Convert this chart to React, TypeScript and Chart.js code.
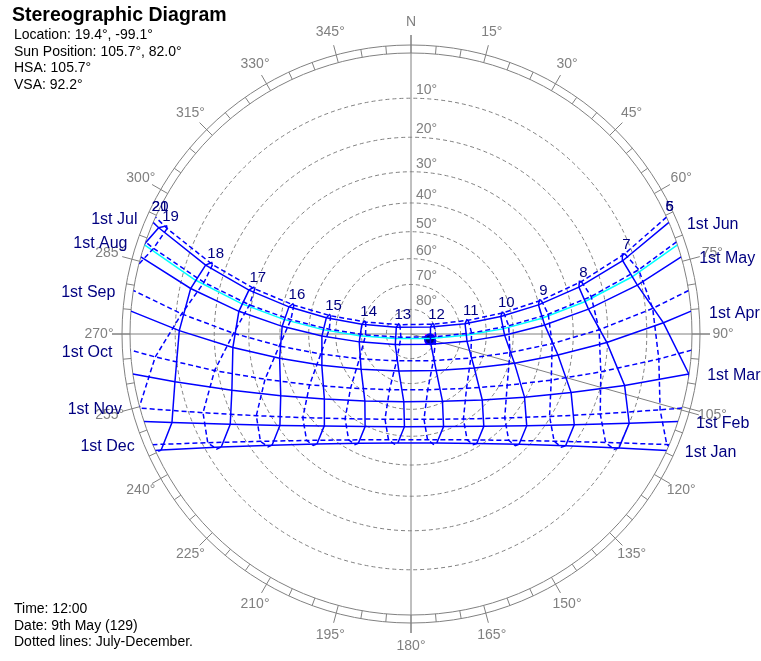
import React, { useEffect, useRef } from "react";
import { Chart, registerables } from "chart.js";

Chart.register(...registerables);

// ---------- data ----------
const LATITUDE = 19.4;
const LONGITUDE = -99.1;
const TZ_MERIDIAN = -90;
const SUN_AZ = 105.7;
const SUN_ALT = 82.0;
const HSA = 105.7;
const VSA = 92.2;
const TIME_TEXT = "12:00";
const DATE_TEXT = "9th May (129)";

// reference dates (declination in degrees, equation of time in minutes)
const DATE_NAMES = ["Jan 1", "Feb 1", "Mar 1", "Apr 1", "May 1", "Jun 1", "Jun 21", "Jul 1", "Aug 1", "Sep 1", "Oct 1", "Nov 1", "Dec 1", "Dec 21"];
const DATE_DECL = [-23.0, -17.1, -7.7, 4.4, 15.0, 22.0, 23.44, 23.1, 18.0, 8.4, -3.1, -14.4, -21.8, -23.44];
const DATE_EOT = [-3.3, -13.5, -12.4, -4.0, 2.9, 2.2, -1.8, -3.9, -6.3, -0.1, 10.1, 16.4, 11.0, 1.8];

const MONTH_LABELS = ["1st Jan", "1st Feb", "1st Mar", "1st Apr", "1st May", "1st Jun", "1st Jul", "1st Aug", "1st Sep", "1st Oct", "1st Nov", "1st Dec"];
const MONTH_DATE_INDEX = [0, 1, 2, 3, 4, 5, 7, 8, 9, 10, 11, 12];
const MONTH_DASHED = [false, false, false, false, false, false, true, true, true, true, true, true];

const TODAY_DECL = 17.4;
const TODAY_EOT = 3.6;

const HOURS = [5, 6, 7, 8, 9, 10, 11, 12, 13, 14, 15, 16, 17, 18, 19, 20, 21];
const HOUR_SOLID_DATES = [0, 1, 2, 3, 4, 5, 6, 7];
const HOUR_DASHED_DATES = [7, 8, 9, 10, 11, 12, 13, 0];
const HOUR_LABEL_DATE = 6;

const ALT_RINGS = [10, 20, 30, 40, 50, 60, 70, 80];
const ALT_LABELS = ["10°", "20°", "30°", "40°", "50°", "60°", "70°", "80°"];
const AZ_LABEL_ANGLES = [0, 15, 30, 45, 60, 75, 90, 105, 120, 135, 150, 165, 180, 195, 210, 225, 240, 255, 270, 285, 300, 315, 330, 345];
const AZ_LABELS = ["N", "15°", "30°", "45°", "60°", "75°", "90°", "105°", "120°", "135°", "150°", "165°", "180°", "195°", "210°", "225°", "240°", "255°", "270°", "285°", "300°", "315°", "330°", "345°"];

// ---------- layout / style ----------
const W = 761;
const H = 661;
const CX = 411;
const CY = 334;
const R_PX = 281;
const RING_OUT = 289 / 281;
const TICK_OUT = 299 / 281;
const LABEL_R = 312 / 281;

const GRAY = "#808080";
const BLUE = "#0000ff";
const NAVY = "#000080";
const CYAN = "#00ffff";
const FONT = '"Liberation Sans", Arial, sans-serif';

const D2R = Math.PI / 180;

function altAz(decl: number, ha: number) {
  const phi = LATITUDE * D2R, d = decl * D2R, h = ha * D2R;
  const sinAlt = Math.sin(phi) * Math.sin(d) + Math.cos(phi) * Math.cos(d) * Math.cos(h);
  const alt = Math.asin(Math.max(-1, Math.min(1, sinAlt))) / D2R;
  const az = Math.atan2(-Math.cos(d) * Math.sin(h), Math.sin(d) * Math.cos(phi) - Math.cos(d) * Math.sin(phi) * Math.cos(h)) / D2R;
  return { alt, az };
}
function hourAngle(clockHour: number, eot: number) {
  const solarMin = clockHour * 60 + 4 * (LONGITUDE - TZ_MERIDIAN) + eot;
  return (solarMin / 60 - 12) * 15;
}
function project(alt: number, az: number) {
  const r = Math.tan(((90 - alt) / 2) * D2R);
  return { x: r * Math.sin(az * D2R), y: r * Math.cos(az * D2R), alt };
}
function halfDay(decl: number) {
  return Math.acos(-Math.tan(LATITUDE * D2R) * Math.tan(decl * D2R)) / D2R;
}
function dayPath(decl: number, eot: number) {
  const h0 = halfDay(decl);
  const pts = [altAz(decl, -h0)];
  for (const h of HOURS) {
    const ha = hourAngle(h, eot);
    if (ha > -h0 && ha < h0) pts.push(altAz(decl, ha));
  }
  pts.push(altAz(decl, h0));
  return pts.map((p) => project(p.alt, p.az));
}
function hourPoint(h: number, di: number) {
  const p = altAz(DATE_DECL[di], hourAngle(h, DATE_EOT[di]));
  return project(p.alt, p.az);
}

export default function App() {
  const ref = useRef<HTMLCanvasElement | null>(null);
  useEffect(() => {
    if (!ref.current) return;
    const datasets: any[] = [];
    const line = (data: any[], color: string, dashed: boolean, width = 1.5) => ({
      data, showLine: true, borderColor: color, backgroundColor: color, borderWidth: width,
      borderDash: dashed ? [5, 3] : [], pointRadius: 0, tension: 0, fill: false,
    });
    const monthEnds: { label: string; east: boolean; x: number; y: number }[] = [];
    MONTH_LABELS.forEach((lab, i) => {
      const di = MONTH_DATE_INDEX[i];
      const pts = dayPath(DATE_DECL[di], DATE_EOT[di]);
      datasets.push(line(pts, BLUE, MONTH_DASHED[i]));
      const east = !MONTH_DASHED[i];
      const end = east ? pts[0] : pts[pts.length - 1];
      monthEnds.push({ label: lab, east, x: end.x, y: end.y });
    });
    const hourLabels: { label: string; x: number; y: number }[] = [];
    HOURS.forEach((h) => {
      const solid = HOUR_SOLID_DATES.map((di) => hourPoint(h, di));
      const dashed = HOUR_DASHED_DATES.map((di) => hourPoint(h, di));
      const visible = solid.concat(dashed).some((p) => p.alt > 0);
      if (visible) {
        datasets.push(line(solid, BLUE, false));
        datasets.push(line(dashed, BLUE, true));
      }
      let a = hourPoint(h, HOUR_LABEL_DATE);
      if (a.alt < 0) {
        const h0 = halfDay(DATE_DECL[HOUR_LABEL_DATE]);
        const p = altAz(DATE_DECL[HOUR_LABEL_DATE], h < 12 ? -h0 : h0);
        a = project(p.alt, p.az);
      }
      hourLabels.push({ label: String(h), x: a.x, y: a.y });
    });
    datasets.push(line(dayPath(TODAY_DECL, TODAY_EOT), CYAN, false));
    const sun = project(SUN_ALT, SUN_AZ);
    datasets.push({ data: [sun], showLine: false, pointRadius: 5, pointStyle: "circle", borderColor: BLUE, backgroundColor: NAVY, borderWidth: 2 });
    datasets.push({ data: [sun], showLine: false, pointRadius: 7, pointStyle: "crossRot", borderColor: "#ff00ff", borderWidth: 1.5 });

    const plugin = {
      id: "stereo",
      beforeDatasetsDraw(chart: any) {
        const { ctx, scales } = chart;
        const xs = scales.x, ys = scales.y;
        const cx = xs.getPixelForValue(0), cy = ys.getPixelForValue(0);
        const unit = xs.getPixelForValue(1) - cx;
        const P = (r: number, az: number) => [xs.getPixelForValue(r * Math.sin(az * D2R)), ys.getPixelForValue(r * Math.cos(az * D2R))];
        ctx.save();
        ctx.strokeStyle = GRAY;
        ctx.lineWidth = 1;
        ctx.setLineDash([4, 3]);
        ALT_RINGS.forEach((a) => {
          const r = Math.tan(((90 - a) / 2) * D2R) * unit;
          ctx.beginPath();
          ctx.arc(cx, cy, r, 0, Math.PI * 2);
          ctx.stroke();
        });
        ctx.setLineDash([]);
        [1, RING_OUT].forEach((r) => {
          ctx.beginPath();
          ctx.arc(cx, cy, r * unit, 0, Math.PI * 2);
          ctx.stroke();
        });
        for (let az = 0; az < 360; az += 5) {
          const a = P(1, az), b = P(az % 15 === 0 ? TICK_OUT : RING_OUT, az);
          ctx.beginPath();
          ctx.moveTo(a[0], a[1]);
          ctx.lineTo(b[0], b[1]);
          ctx.stroke();
        }
        [[0, 180], [90, 270]].forEach(([a1, a2]) => {
          const a = P(TICK_OUT, a1), b = P(TICK_OUT, a2);
          ctx.beginPath();
          ctx.moveTo(a[0], a[1]);
          ctx.lineTo(b[0], b[1]);
          ctx.stroke();
        });
        const s = P(TICK_OUT, SUN_AZ);
        ctx.beginPath();
        ctx.moveTo(cx, cy);
        ctx.lineTo(s[0], s[1]);
        ctx.stroke();
        ctx.restore();
        ctx.save();
        ctx.beginPath();
        ctx.arc(cx, cy, unit, 0, Math.PI * 2);
        ctx.clip();
      },
      afterDatasetsDraw(chart: any) {
        const { ctx, scales } = chart;
        ctx.restore();
        const xs = scales.x, ys = scales.y;
        const cx = xs.getPixelForValue(0), cy = ys.getPixelForValue(0);
        const unit = xs.getPixelForValue(1) - cx;
        const P = (r: number, az: number) => [xs.getPixelForValue(r * Math.sin(az * D2R)), ys.getPixelForValue(r * Math.cos(az * D2R))];
        ctx.save();
        ctx.fillStyle = GRAY;
        ctx.font = `14px ${FONT}`;
        ctx.textAlign = "center";
        ctx.textBaseline = "middle";
        AZ_LABEL_ANGLES.forEach((az, i) => {
          const p = P(LABEL_R, az);
          ctx.fillText(AZ_LABELS[i], p[0], p[1]);
        });
        ctx.textAlign = "left";
        ctx.textBaseline = "bottom";
        ALT_RINGS.forEach((a, i) => {
          const r = Math.tan(((90 - a) / 2) * D2R) * unit;
          ctx.fillText(ALT_LABELS[i], cx + 5, cy - r - 1);
        });
        ctx.fillStyle = NAVY;
        ctx.font = `16px ${FONT}`;
        ctx.textBaseline = "middle";
        monthEnds.forEach((m) => {
          const px = xs.getPixelForValue(m.x), py = ys.getPixelForValue(m.y);
          ctx.textAlign = m.east ? "left" : "right";
          ctx.fillText(m.label, px + (m.east ? 18 : -18), py + 2);
        });
        ctx.font = `15px ${FONT}`;
        ctx.textAlign = "center";
        hourLabels.forEach((hl) => {
          const px = xs.getPixelForValue(hl.x), py = ys.getPixelForValue(hl.y);
          ctx.fillText(hl.label, px + 4, py - 9);
        });
        ctx.fillStyle = "#000000";
        ctx.textAlign = "left";
        ctx.textBaseline = "alphabetic";
        ctx.font = `bold 19.5px ${FONT}`;
        ctx.fillText("Stereographic Diagram", 12, 21);
        ctx.font = `14px ${FONT}`;
        const info = [
          `Location: ${LATITUDE.toFixed(1)}°, ${LONGITUDE.toFixed(1)}°`,
          `Sun Position: ${SUN_AZ.toFixed(1)}°, ${SUN_ALT.toFixed(1)}°`,
          `HSA: ${HSA.toFixed(1)}°`,
          `VSA: ${VSA.toFixed(1)}°`,
        ];
        info.forEach((t, i) => ctx.fillText(t, 14, 39 + i * 16.5));
        const foot = [`Time: ${TIME_TEXT}`, `Date: ${DATE_TEXT}`, "Dotted lines: July-December."];
        foot.forEach((t, i) => ctx.fillText(t, 14, 613 + i * 16.5));
        ctx.restore();
      },
    };

    const chart = new Chart(ref.current, {
      type: "scatter",
      data: { datasets },
      options: {
        animation: false,
        responsive: false,
        devicePixelRatio: 1,
        events: [],
        layout: { padding: 0, autoPadding: false },
        plugins: { legend: { display: false }, tooltip: { enabled: false }, title: { display: false } },
        scales: {
          x: { type: "linear", display: false, min: -CX / R_PX, max: (W - CX) / R_PX },
          y: { type: "linear", display: false, min: -(H - CY) / R_PX, max: CY / R_PX },
        },
      },
      plugins: [plugin],
    } as any);
    return () => chart.destroy();
  }, []);
  return (
    <div style={{ position: "fixed", left: 0, top: 0, width: W, height: H, background: "#fff" }}>
      <canvas ref={ref} width={W} height={H} style={{ width: W, height: H, display: "block" }} />
    </div>
  );
}
